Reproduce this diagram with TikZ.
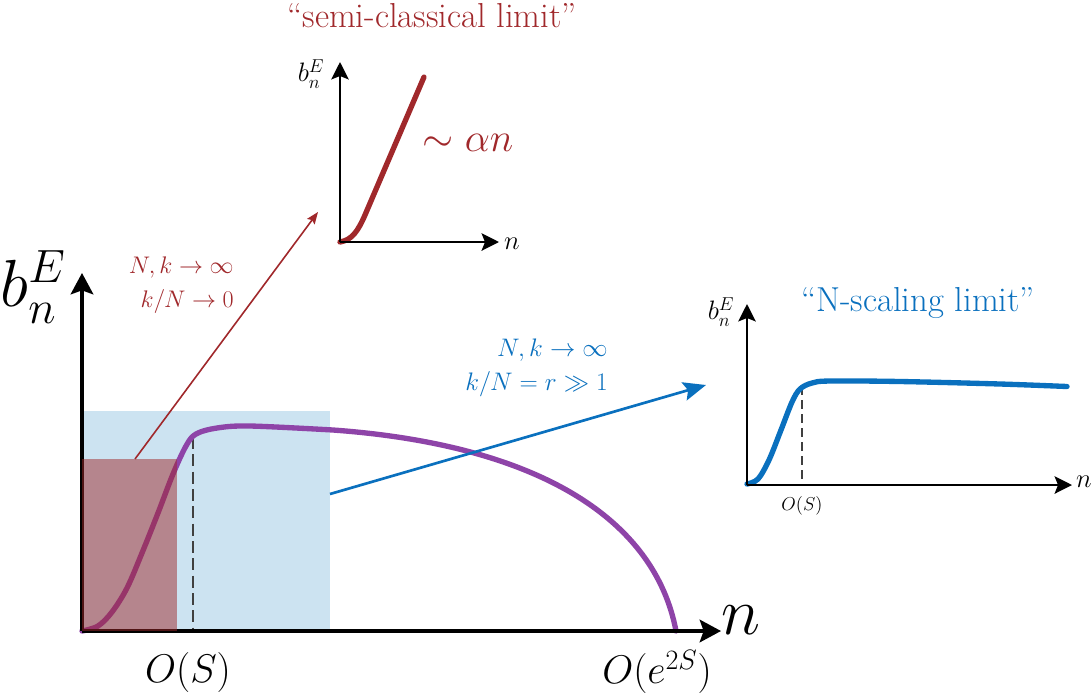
\RequirePackage{fix-cm}
\documentclass[tikz,border=0pt]{standalone}
\usetikzlibrary{arrows.meta}
\definecolor{cred}{RGB}{160,40,43}
\definecolor{cblue}{RGB}{10,112,190}
\definecolor{cpurple}{RGB}{142,68,168}
\definecolor{clight}{RGB}{204,227,241}
\begin{document}
\begin{tikzpicture}[x=0.75pt,y=-0.75pt,
  mainaxis/.style={line width=2.4pt,-{Stealth[length=16pt,width=17pt,inset=3pt]}},
  insetaxis/.style={line width=2pt,-{Stealth[length=13pt,width=13pt,inset=2.5pt]}},
  dashline/.style={line width=1.1pt,dash pattern=on 9pt off 4pt,black!75},
  curvestyle/.style={line width=4pt,line cap=round},
  redarrow/.style={cred,line width=1.2pt,-{Stealth[length=9pt,width=7pt,inset=1.5pt]}},
  bluearrow/.style={cblue,line width=2pt,-{Stealth[length=17pt,width=14pt,inset=3pt]}},
  biglabel/.style={font=\fontsize{50}{60}\selectfont,inner sep=0pt},
  midlabel/.style={font=\fontsize{30}{36}\selectfont,inner sep=0pt},
  smalllabel/.style={font=\fontsize{20}{24}\selectfont,inner sep=0pt},
  tinylabel/.style={font=\fontsize{14}{17}\selectfont,inner sep=0pt},
  condlabel/.style={font=\fontsize{18}{26}\selectfont,inner sep=0pt,align=right,anchor=east},
  titlelabel/.style={font=\fontsize{26}{31}\selectfont,inner sep=0pt}
]
\useasboundingbox (0,0) rectangle (1092,697);

% ---------------- main plot ----------------
\coordinate (O) at (82,631);
\coordinate (Ytip) at (82,273);
\coordinate (Xtip) at (721,631);

\fill[clight] (82,411) rectangle (330,631);
\coordinate (bluestart) at (330,494);

\draw[dashline] (193,437) -- (193,631);

\draw[curvestyle,cpurple] plot[smooth,tension=0.55] coordinates {
 (82,631) (98,626) (112,612) (127,588) (142,553) (158,513) (173,474) (186,446) (196,434)
 (217,428) (250,426) (333,430)}
 .. controls (540,445) and (655,520) .. (676,631);

\draw[mainaxis] (O) -- (Ytip);
\draw[mainaxis] (O) -- (Xtip);

\fill[cred,opacity=0.5] (82,459) rectangle (177,631);
\coordinate (redstart) at (135,459);

\node[biglabel] (bmain) at (33,287) {$b_n^E$};
\node[biglabel] (nmain) at (741,620) {$n$};
\node[midlabel] (OS) at (188,672) {$O(S)$};
\node[midlabel] (Oe) at (657,672) {$O(e^{2S})$};

% ---------------- inset 1: semi-classical ----------------
\coordinate (O1) at (340,242);
\coordinate (Y1) at (340,62);
\coordinate (X1) at (499,242);
\draw[curvestyle,cred] (O1) .. controls (352,240) and (358,231) .. (365,215) -- (424,77);
\draw[insetaxis] (O1) -- (Y1);
\draw[insetaxis] (O1) -- (X1);
\node[smalllabel] (b1) at (311,74) {$b_n^E$};
\node[smalllabel] (n1) at (512,244) {$n$};
\node[midlabel,text=cred] (alpha) at (468,143) {$\sim\alpha n$};
\node[titlelabel,text=cred] (title1) at (432,16) {“semi-classical limit”};
\coordinate (redtip) at (318,212);

\draw[redarrow] (redstart) -- (redtip);
\node[condlabel,text=cred] (cond1) at (234,285) {$N,k\to\infty$\\$k/N\to 0$};

% ---------------- inset 2: N-scaling ----------------
\coordinate (O2) at (747,485);
\coordinate (Y2) at (747,304);
\coordinate (X2) at (1072,485);
\draw[dashline,line width=0.9pt,dash pattern=on 7pt off 3.5pt] (802,386) -- (802,485);
\draw[curvestyle,cblue] plot[smooth,tension=0.55] coordinates {
 (747,484) (758,479) (769,460) (781,430) (792,402) (800,389) (812,383) (830,381)
 (900,381.5) (1000,384) (1067,386.5)};
\draw[insetaxis] (O2) -- (Y2);
\draw[insetaxis] (O2) -- (X2);
\node[smalllabel] (b2) at (721,312) {$b_n^E$};
\node[smalllabel] (n2) at (1084,482) {$n$};
\node[tinylabel] (OS2) at (802,506) {$O(S)$};
\node[titlelabel,text=cblue] (title2) at (918,303) {“N-scaling limit”};
\coordinate (bluetip) at (706,385);

\draw[bluearrow] (bluestart) -- (bluetip);
\node[condlabel,text=cblue,font=\fontsize{19}{25}\selectfont] (cond2) at (608,368) {$N,k\to\infty$\\$k/N=r\gg 1$};
\end{tikzpicture}
\end{document}
